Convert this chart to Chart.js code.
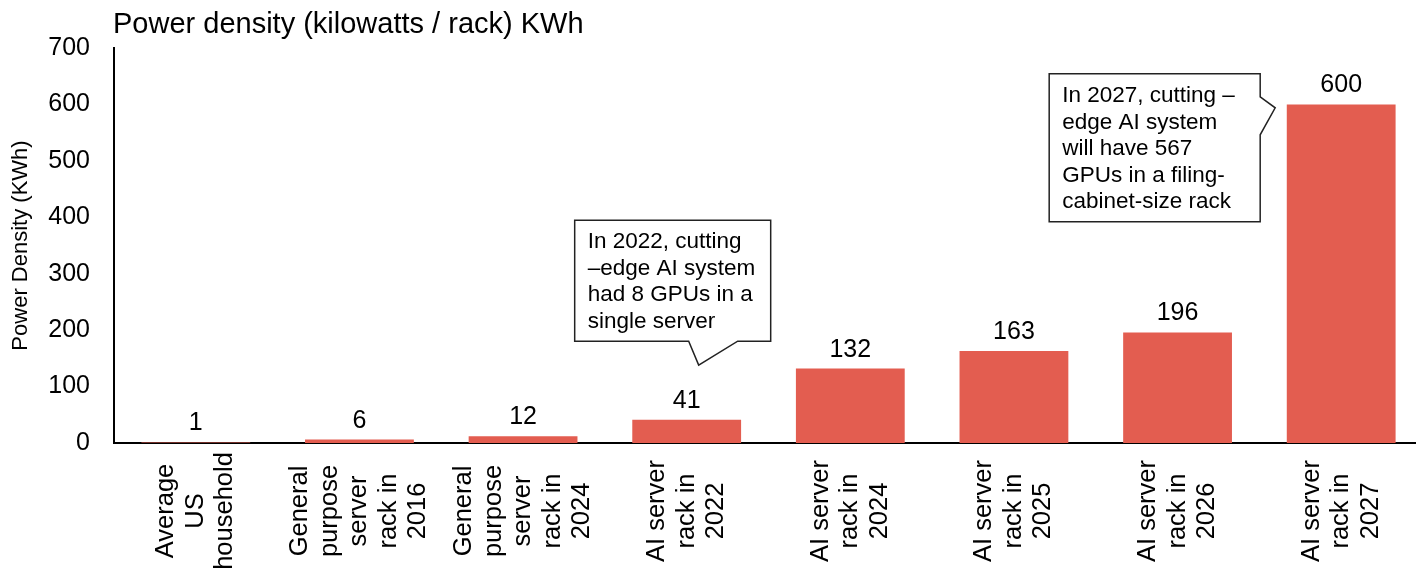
<!DOCTYPE html>
<html>
<head>
<meta charset="utf-8">
<script src="https://cdn.jsdelivr.net/npm/chart.js@4.4.1/dist/chart.umd.min.js"></script>
<style>
  html, body { margin: 0; padding: 0; background: #fff; overflow: hidden; }
  #wrap { width: 1424px; height: 577px; }
</style>
</head>
<body>
<div id="wrap"><canvas id="chart-power" width="1424" height="577"></canvas></div>
<script>
// data
const categories = [
  ["Average", "US", "household"],
  ["General", "purpose", "server", "rack in", "2016"],
  ["General", "purpose", "server", "rack in", "2024"],
  ["AI server", "rack in", "2022"],
  ["AI server", "rack in", "2024"],
  ["AI server", "rack in", "2025"],
  ["AI server", "rack in", "2026"],
  ["AI server", "rack in", "2027"],
];
const powerDensity = [1, 6, 12, 41, 132, 163, 196, 600];
const yTicks = [0, 100, 200, 300, 400, 500, 600, 700];

const chartTitle = "Power density (kilowatts / rack) KWh";
const yTitle = "Power Density (KWh)";

const note2022 = ["In 2022, cutting", "\u2013edge AI system", "had 8 GPUs in a", "single server"];
const note2027 = ["In 2027, cutting \u2013", "edge AI system", "will have 567", "GPUs in a filing-", "cabinet-size rack"];

const FONT = "'Liberation Sans', Arial, Helvetica, sans-serif";
Chart.defaults.font.family = FONT;
Chart.defaults.color = "#000";

// callouts: tip anchored on a category / value, box given relative to the tip
const callouts = [
  { index: 3, value: 138, dx: 12, side: "bottom", box: [-124, -145, 72, -24], base: [-10, 39], lines: note2022 },
  { index: 7, value: 594, dx: -66, side: "right", box: [-226, -34, -15, 114], base: [-11, 27], lines: note2027 },
];

const titlePlugin = {
  id: "titlePlugin",
  afterDraw(chart) {
    const c = chart.ctx;
    c.save();
    c.font = "29px " + FONT;
    c.fillStyle = "#000";
    c.textAlign = "left";
    c.textBaseline = "alphabetic";
    c.fillText(chartTitle, chart.chartArea.left - 1, 33);
    c.restore();
  },
};

const valueLabels = {
  id: "valueLabels",
  afterDatasetsDraw(chart) {
    const c = chart.ctx;
    const meta = chart.getDatasetMeta(0);
    c.save();
    c.font = "25px " + FONT;
    c.fillStyle = "#000";
    c.textAlign = "center";
    c.textBaseline = "alphabetic";
    meta.data.forEach((bar, i) => {
      c.fillText(String(powerDensity[i]), bar.x, bar.y - 12);
    });
    c.restore();
  },
};

// x labels: rotated, lines centred (Chart.js right-aligns rotated ticks)
const xLabels = {
  id: "xLabels",
  afterDraw(chart) {
    const c = chart.ctx;
    const xs = chart.scales.x;
    c.save();
    c.font = "25.5px " + FONT;
    c.fillStyle = "#000";
    c.textAlign = "center";
    c.textBaseline = "middle";
    categories.forEach((lines, i) => {
      c.save();
      c.translate(xs.getPixelForValue(i), 511);
      c.rotate(-Math.PI / 2);
      const n = lines.length;
      lines.forEach((ln, j) => c.fillText(ln, 0, (j - (n - 1) / 2) * 29.5));
      c.restore();
    });
    c.restore();
  },
};

const calloutPlugin = {
  id: "calloutPlugin",
  afterDraw(chart) {
    const c = chart.ctx;
    const xs = chart.scales.x;
    const ys = chart.scales.y;
    callouts.forEach((co) => {
      const tx = xs.getPixelForValue(co.index) + co.dx;
      const ty = ys.getPixelForValue(co.value);
      const l = tx + co.box[0], t = ty + co.box[1], r = tx + co.box[2], b = ty + co.box[3];
      c.save();
      c.beginPath();
      c.moveTo(l, t);
      c.lineTo(r, t);
      if (co.side === "right") {
        c.lineTo(r, ty + co.base[0]);
        c.lineTo(tx, ty);
        c.lineTo(r, ty + co.base[1]);
        c.lineTo(r, b);
        c.lineTo(l, b);
      } else {
        c.lineTo(r, b);
        c.lineTo(tx + co.base[1], b);
        c.lineTo(tx, ty);
        c.lineTo(tx + co.base[0], b);
        c.lineTo(l, b);
      }
      c.closePath();
      c.fillStyle = "#fff";
      c.fill();
      c.lineWidth = 1.5;
      c.strokeStyle = "#222";
      c.stroke();
      c.font = "22.5px " + FONT;
      c.fillStyle = "#000";
      c.textAlign = "left";
      c.textBaseline = "middle";
      co.lines.forEach((ln, j) => c.fillText(ln, l + 13, t + 22 + j * 26.5));
      c.restore();
    });
  },
};

const ctx = document.getElementById("chart-power").getContext("2d");
new Chart(ctx, {
  type: "bar",
  data: {
    labels: categories,
    datasets: [
      {
        data: powerDensity,
        backgroundColor: "#E35D50",
        borderWidth: 0,
        barPercentage: 0.665,
        categoryPercentage: 1.0,
      },
    ],
  },
  options: {
    responsive: false,
    animation: false,
    layout: {
      padding: { top: 48, right: 1, left: 0, bottom: 0 },
    },
    plugins: {
      legend: { display: false },
      tooltip: { enabled: false },
    },
    scales: {
      x: {
        grid: { display: false },
        border: { display: true, color: "#000", width: 2 },
        ticks: { display: false },
        afterFit: (scale) => {
          scale.height = 134;
        },
      },
      y: {
        min: 0,
        max: 700,
        grid: { display: false },
        border: { display: true, color: "#000", width: 2 },
        afterBuildTicks: (scale) => {
          scale.ticks = yTicks.map((v) => ({ value: v }));
        },
        ticks: {
          padding: 16,
          color: "#000",
          font: { size: 25 },
        },
        title: {
          display: true,
          text: yTitle,
          color: "#000",
          font: { size: 22 },
          padding: { top: 8, bottom: 0 },
        },
        afterFit: (scale) => {
          scale.width = 114;
        },
      },
    },
  },
  plugins: [valueLabels, xLabels, calloutPlugin, titlePlugin],
});
</script>
</body>
</html>
